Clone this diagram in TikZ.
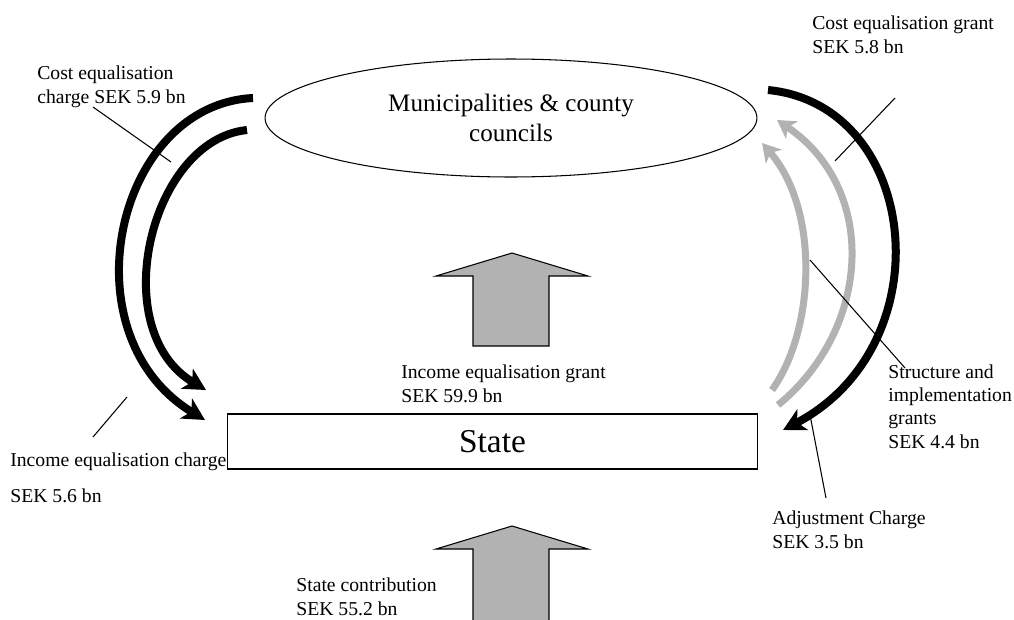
\documentclass[tikz,border=0pt]{standalone}
\usepackage{fontspec}
\setmainfont{Liberation Serif}
\usetikzlibrary{arrows.meta,shapes.geometric}

\begin{document}
\begin{tikzpicture}[
  x=0.02cm, y=-0.02cm,
  lbl/.style={anchor=base west, inner sep=0pt, align=left, font=\fontsize{11.2}{13.2}\selectfont},
  blk/.style={line width=0.16cm, -{Stealth[length=0.44cm, width=0.46cm, inset=0.12cm]}},
  gry/.style={line width=0.14cm, draw=black!30, -{Stealth[length=0.36cm, width=0.42cm, inset=0.1cm]}},
  lead/.style={line width=0.6pt},
  bigarr/.style={draw=black, line width=0.6pt, fill=black!30}
]
\clip (0,0) rectangle (1014,619);

% main boxes
\node[draw, ellipse, line width=0.6pt, minimum width=9.84cm, minimum height=2.36cm,
  align=center, font=\fontsize{14.3}{17}\selectfont] (muni) at (511,118)
  {Municipalities \& county\\councils};
\node[draw, line width=0.6pt, minimum width=10.62cm, minimum height=1.1cm,
  font=\fontsize{19}{22}\selectfont] (state) at (492.5,441.5) {State};

% block arrows
\draw[bigarr] (473,346) -- (473,276) -- (436,276) -- (512,253) -- (588,276)
  -- (549,276) -- (549,346) -- cycle;
\draw[bigarr] (473,630) -- (473,549) -- (436,549) -- (512,526) -- (588,549)
  -- (549,549) -- (549,630) -- cycle;

% ends of the flows
\coordinate (lo-s) at (253,98);  \coordinate (lo-e) at (205,420);
\coordinate (li-s) at (247,130); \coordinate (li-e) at (206,390);
\coordinate (rb-s) at (768,90);  \coordinate (rb-e) at (783,430);
\coordinate (go-s) at (778,405); \coordinate (go-e) at (777,120);
\coordinate (gi-s) at (772,390); \coordinate (gi-e) at (762,143);

% flows
\draw[blk] (lo-s) .. controls (115,105) and (65,335) .. (lo-e);
\draw[blk] (li-s) .. controls (150,140) and (105,330) .. (li-e);
\draw[blk] (rb-s) .. controls (920,105) and (945,345) .. (rb-e);
\draw[gry] (go-s) .. controls (870,330) and (880,190) .. (go-e);
\draw[gry] (gi-s) .. controls (815,330) and (820,210) .. (gi-e);

% labels (anchored on the last line)
\node[lbl] (cec) at (37,103) {Cost equalisation\\charge SEK 5.9 bn};
\node[lbl] (ceg) at (812,53) {Cost equalisation grant\\SEK 5.8 bn};
\node[lbl] (ieg) at (401,402) {Income equalisation grant\\SEK 59.9 bn};
\node[lbl] (iec) at (10,466) {Income equalisation charge};
\node[lbl] (iec2) at (10,502) {SEK 5.6 bn};
\node[lbl] (sig) at (888,448) {Structure and\\implementation\\grants\\SEK 4.4 bn};
\node[lbl] (adj) at (772,548) {Adjustment Charge\\SEK 3.5 bn};
\node[lbl] (sc) at (296,615) {State contribution\\SEK 55.2 bn};

% leader lines
\coordinate (l1a) at (93,107);  \coordinate (l1b) at (171,162);
\coordinate (l2a) at (895,98);  \coordinate (l2b) at (835,161);
\coordinate (l3a) at (810,260); \coordinate (l3b) at (905,368);
\coordinate (l4a) at (810,415); \coordinate (l4b) at (826,498);
\coordinate (l5a) at (127,397); \coordinate (l5b) at (93,437);
\draw[lead] (l1a) -- (l1b);
\draw[lead] (l2a) -- (l2b);
\draw[lead] (l3a) -- (l3b);
\draw[lead] (l4a) -- (l4b);
\draw[lead] (l5a) -- (l5b);
\end{tikzpicture}
\end{document}
